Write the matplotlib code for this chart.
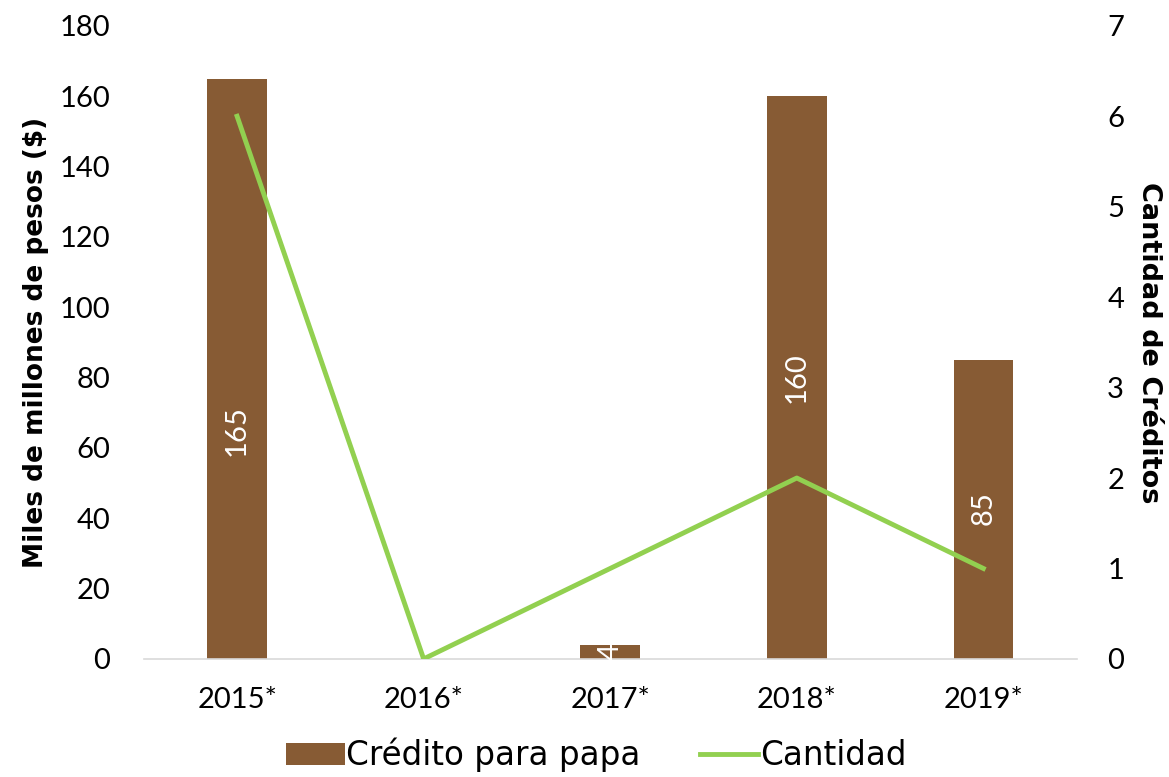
import matplotlib
matplotlib.use("Agg")
import matplotlib.pyplot as plt
import numpy as np

years = ["2015*", "2016*", "2017*", "2018*", "2019*"]
credito = [165, 0, 4, 160, 85]
cantidad = [6, 0, 1, 2, 1]
label_pos = [65, 0, 2, 80, 43]

BROWN = "#875B34"
GREEN = "#92D050"
FONT = ["Lato", "DejaVu Sans"]
WIDE = ["DejaVu Sans"]

plt.rcParams["font.family"] = FONT

fig = plt.figure(figsize=(11.69, 7.77), dpi=100)
ax = fig.add_axes([0.123, 0.152, 0.798, 0.8148])
ax2 = ax.twinx()

x = np.arange(len(years))
ax.bar(x, credito, width=0.32, color=BROWN, label="Crédito para papa", zorder=2)
for xi, v, p in zip(x, credito, label_pos):
    if v > 0:
        ax.text(xi, p, str(v), rotation=90, ha="center", va="center",
                color="white", fontsize=21, zorder=3)

ax2.plot(x, cantidad, color=GREEN, lw=3.5, label="Cantidad", zorder=4)

ax.set_xlim(-0.5, len(years) - 0.5)
ax.set_ylim(0, 180)
ax.set_yticks(np.arange(0, 181, 20))
ax2.set_ylim(0, 7)
ax2.set_yticks(np.arange(0, 8, 1))

ax.set_xticks(x)
ax.set_xticklabels(years)
for a in (ax, ax2):
    for s in a.spines.values():
        s.set_visible(False)
    a.tick_params(length=0, labelsize=21, colors="black")
ax.spines["bottom"].set_visible(True)
ax.spines["bottom"].set_color("#D9D9D9")
ax.spines["bottom"].set_linewidth(1.2)
ax.tick_params(axis="x", pad=20)
ax.tick_params(axis="y", pad=24)
ax2.tick_params(axis="y", pad=22)

ax.set_ylabel("Miles de millones de pesos ($)", fontsize=19, fontweight="bold",
              family=WIDE, labelpad=8)
ax2.set_ylabel("Cantidad de Créditos", fontsize=19.5, fontweight="bold",
               family=WIDE, rotation=-90, labelpad=27)

h1, l1 = ax.get_legend_handles_labels()
h2, l2 = ax2.get_legend_handles_labels()
fig.legend(h1 + h2, l1 + l2, loc="lower center", bbox_to_anchor=(0.51, -0.032),
           ncol=2, frameon=False, prop={"family": WIDE, "size": 23.5},
           handlelength=1.8, handletextpad=0.05, columnspacing=1.8)

fig.savefig("out.png", dpi=100)
